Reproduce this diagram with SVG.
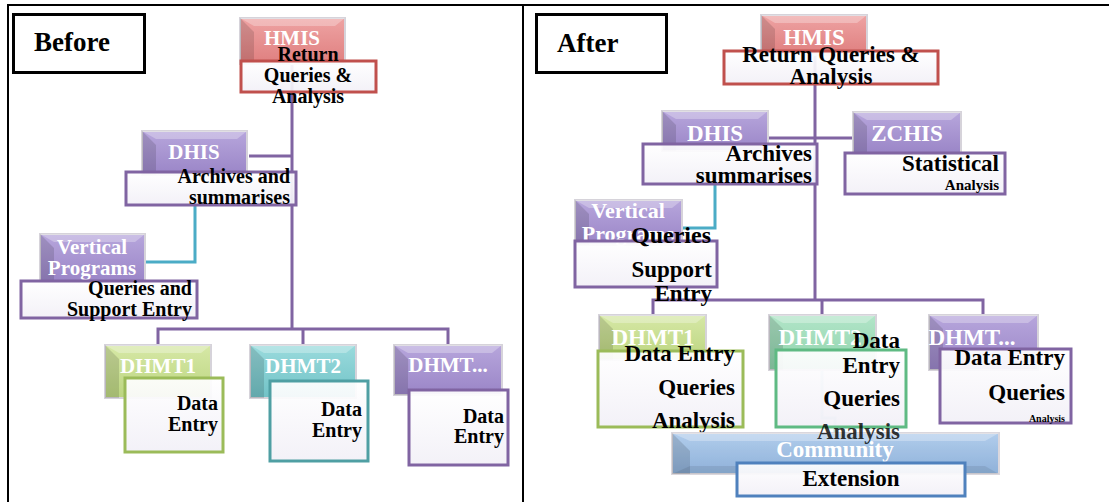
<svg xmlns="http://www.w3.org/2000/svg" width="1109" height="502" viewBox="0 0 1109 502">
  <style>
    text { font-family: "Liberation Serif", "DejaVu Serif", serif; font-weight: bold; }
    .frame { fill: none; stroke: #000; stroke-width: 2; }
    .tag { fill: #fff; stroke: #000; stroke-width: 3; }
    .tagtxt { font-size: 27px; fill: #000; }
    .rim { stroke: #d6d3da; stroke-width: 2; }
    .shadeL { fill: #000; opacity: 0.13; }
    .shadeT { fill: #fff; opacity: 0.28; }
    .shadeB { fill: #000; opacity: 0.08; }
    .card { fill: url(#cardFill); stroke-width: 3; }
    .ht { fill: #fff; text-anchor: middle; }
    .h1 { font-size: 21px; }
    .h2 { font-size: 23px; }
    .t1 { font-size: 20px; fill: #000; }
    .t2 { font-size: 23px; fill: #000; }
    .r { text-anchor: end; }
    .c { text-anchor: middle; }
    .lnP { fill: none; stroke: #8064a2; stroke-width: 3; }
    .lnB { fill: none; stroke: #4bacc6; stroke-width: 3; }
    .red { stroke: #c0504d; }
    .pur { stroke: #8064a2; }
    .grn { stroke: #9bbb59; }
    .teal { stroke: #4f9fa3; }
    .mint { stroke: #5fba83; }
    .blu { stroke: #4f81bd; }
  </style>
  <defs>
    <linearGradient id="cardFill" x1="0" y1="0" x2="0" y2="1">
      <stop offset="0" stop-color="#ffffff" stop-opacity="0.93"/>
      <stop offset="1" stop-color="#f2f0f7" stop-opacity="0.93"/>
    </linearGradient>
    <linearGradient id="gRed" x1="0" y1="0" x2="0" y2="1">
      <stop offset="0" stop-color="#eea3a3"/>
      <stop offset="1" stop-color="#df7f7f"/>
    </linearGradient>
    <linearGradient id="gPur" x1="0" y1="0" x2="0" y2="1">
      <stop offset="0" stop-color="#b7a6dc"/>
      <stop offset="1" stop-color="#9a85c7"/>
    </linearGradient>
    <linearGradient id="gGrn" x1="0" y1="0" x2="0" y2="1">
      <stop offset="0" stop-color="#d6e8a6"/>
      <stop offset="1" stop-color="#bcd580"/>
    </linearGradient>
    <linearGradient id="gTeal" x1="0" y1="0" x2="0" y2="1">
      <stop offset="0" stop-color="#9adbdd"/>
      <stop offset="1" stop-color="#71c2c6"/>
    </linearGradient>
    <linearGradient id="gMint" x1="0" y1="0" x2="0" y2="1">
      <stop offset="0" stop-color="#b2e5c8"/>
      <stop offset="1" stop-color="#8ed3ac"/>
    </linearGradient>
    <linearGradient id="gBlu" x1="0" y1="0" x2="0" y2="1">
      <stop offset="0" stop-color="#a9c8ea"/>
      <stop offset="1" stop-color="#83a9d6"/>
    </linearGradient>
  </defs>

  <!-- page frame and panel divider -->
  <g id="frame">
    <path class="frame" d="M7 5 H1109 M8 5 V502 M523 5 V502"/>
  </g>

  <!-- panel captions -->
  <g id="tag-before">
    <rect class="tag" x="13.5" y="14.5" width="131" height="58"/>
    <text class="tagtxt" x="34" y="51">Before</text>
  </g>
  <g id="tag-after">
    <rect class="tag" x="536.5" y="14.5" width="130" height="58"/>
    <text class="tagtxt" x="557" y="52">After</text>
  </g>

  <!-- connectors -->
  <g id="connectors">
    <path class="lnP" d="M292 60 V329 M249 156 H292 M158 345 V329 H448 V345 M303 329 V345"/>
    <path class="lnB" d="M195 206 V262 H145"/>
    <path class="lnP" d="M815 52 V300 M768 138 H853 M653 315 V300 H983 V315 M822 300 V315"/>
    <path class="lnB" d="M715 185 V228 H682"/>
    <path class="lnB" d="M822 362 V418 H835 V433" opacity="0.35"/>
  </g>

  <!-- Before: HMIS -->
  <g id="b-hmis">
    <rect class="rim" x="240" y="18" width="105" height="46" fill="url(#gRed)"/>
    <polygon class="shadeL" points="240,18 254,32 254,64 240,64"/>
    <polygon class="shadeT" points="240,18 345,18 335,26 254,26"/>
    <text class="ht h1" x="292" y="45">HMIS</text>
    <rect class="card red" x="241" y="61" width="135" height="31"/>
    <text class="t1 c" x="308" y="61">Return</text>
    <text class="t1 c" x="308" y="82">Queries &amp;</text>
    <text class="t1 c" x="308" y="103">Analysis</text>
  </g>

  <!-- Before: DHIS -->
  <g id="b-dhis">
    <rect class="rim" x="142" y="131" width="105" height="44" fill="url(#gPur)"/>
    <polygon class="shadeL" points="142,131 156,145 156,175 142,175"/>
    <polygon class="shadeT" points="142,131 247,131 237,139 156,139"/>
    <text class="ht h1" x="194" y="159">DHIS</text>
    <rect class="card pur" x="126" y="172" width="170" height="33"/>
    <text class="t1 r" x="290" y="183">Archives and</text>
    <text class="t1 r" x="290" y="204">summarises</text>
  </g>

  <!-- Before: Vertical Programs -->
  <g id="b-vertical">
    <rect class="rim" x="40" y="234" width="105" height="48" fill="url(#gPur)"/>
    <polygon class="shadeL" points="40,234 54,248 54,282 40,282"/>
    <polygon class="shadeT" points="40,234 145,234 135,242 54,242"/>
    <text class="ht h1" x="92" y="254">Vertical</text>
    <text class="ht h1" x="92" y="275">Programs</text>
    <rect class="card pur" x="21" y="281" width="176" height="37"/>
    <text class="t1 r" x="192" y="295">Queries and</text>
    <text class="t1 r" x="192" y="316">Support Entry</text>
  </g>

  <!-- Before: DHMT1 -->
  <g id="b-dhmt1">
    <rect class="rim" x="105" y="345" width="106" height="53" fill="url(#gGrn)"/>
    <polygon class="shadeL" points="105,345 119,359 119,398 105,398"/>
    <polygon class="shadeT" points="105,345 211,345 201,353 119,353"/>
    <text class="ht h1" x="158" y="373">DHMT1</text>
    <rect class="card grn" x="125" y="378" width="98" height="74"/>
    <text class="t1 r" x="218" y="410">Data</text>
    <text class="t1 r" x="218" y="431">Entry</text>
  </g>

  <!-- Before: DHMT2 -->
  <g id="b-dhmt2">
    <rect class="rim" x="250" y="345" width="106" height="53" fill="url(#gTeal)"/>
    <polygon class="shadeL" points="250,345 264,359 264,398 250,398"/>
    <polygon class="shadeT" points="250,345 356,345 346,353 264,353"/>
    <text class="ht h1" x="303" y="373">DHMT2</text>
    <rect class="card teal" x="270" y="381" width="98" height="80"/>
    <text class="t1 r" x="362" y="416">Data</text>
    <text class="t1 r" x="362" y="437">Entry</text>
  </g>

  <!-- Before: DHMT... -->
  <g id="b-dhmtn">
    <rect class="rim" x="394" y="345" width="108" height="50" fill="url(#gPur)"/>
    <polygon class="shadeL" points="394,345 408,359 408,395 394,395"/>
    <polygon class="shadeT" points="394,345 502,345 492,353 408,353"/>
    <text class="ht h1" x="448" y="372">DHMT...</text>
    <rect class="card pur" x="409" y="390" width="99" height="75"/>
    <text class="t1 r" x="504" y="423">Data</text>
    <text class="t1 r" x="504" y="443">Entry</text>
  </g>

  <!-- After: HMIS -->
  <g id="a-hmis">
    <rect class="rim" x="761" y="15" width="106" height="40" fill="url(#gRed)"/>
    <polygon class="shadeL" points="761,15 775,29 775,55 761,55"/>
    <polygon class="shadeT" points="761,15 867,15 857,23 775,23"/>
    <text class="ht h2" x="814" y="45">HMIS</text>
    <rect class="card red" x="724" y="51" width="214" height="33"/>
    <text class="t2 c" x="831" y="62">Return Queries &amp;</text>
    <text class="t2 c" x="831" y="84">Analysis</text>
  </g>

  <!-- After: DHIS -->
  <g id="a-dhis">
    <rect class="rim" x="662" y="111" width="106" height="40" fill="url(#gPur)"/>
    <polygon class="shadeL" points="662,111 676,125 676,151 662,151"/>
    <polygon class="shadeT" points="662,111 768,111 758,119 676,119"/>
    <text class="ht h2" x="715" y="141">DHIS</text>
    <rect class="card pur" x="643" y="144" width="174" height="40"/>
    <text class="t2 r" x="812" y="161">Archives</text>
    <text class="t2 r" x="812" y="183">summarises</text>
  </g>

  <!-- After: ZCHIS -->
  <g id="a-zchis">
    <rect class="rim" x="853" y="112" width="108" height="42" fill="url(#gPur)"/>
    <polygon class="shadeL" points="853,112 867,126 867,154 853,154"/>
    <polygon class="shadeT" points="853,112 961,112 951,120 867,120"/>
    <text class="ht h2" x="907" y="141">ZCHIS</text>
    <rect class="card pur" x="845" y="153" width="160" height="41"/>
    <text class="t2 r" x="999" y="171">Statistical</text>
    <text class="r" x="999" y="190" font-size="15px">Analysis</text>
  </g>

  <!-- After: Vertical Programs -->
  <g id="a-vertical">
    <rect class="rim" x="575" y="200" width="107" height="45" fill="url(#gPur)"/>
    <polygon class="shadeL" points="575,200 589,214 589,245 575,245"/>
    <polygon class="shadeT" points="575,200 682,200 672,208 589,208"/>
    <text class="ht" x="628" y="218" font-size="22px">Vertical</text>
    <text class="ht" x="628" y="241" font-size="22px">Programs</text>
    <rect class="card pur" x="575" y="241" width="142" height="46"/>
    <text class="r" x="711" y="243" font-size="24px">Queries</text>
    <text class="t2 r" x="712" y="277">Support</text>
    <text class="t2 r" x="712" y="301">Entry</text>
  </g>

  <!-- After: DHMT1 -->
  <g id="a-dhmt1">
    <rect class="rim" x="599" y="315" width="107" height="45" fill="url(#gGrn)"/>
    <polygon class="shadeL" points="599,315 613,329 613,360 599,360"/>
    <polygon class="shadeT" points="599,315 706,315 696,323 613,323"/>
    <text class="ht h2" x="653" y="345">DHMT1</text>
    <rect class="card grn" x="598" y="351" width="145" height="76"/>
    <text class="t2 r" x="735" y="361">Data Entry</text>
    <text class="t2 r" x="735" y="395">Queries</text>
    <text class="t2 r" x="735" y="428">Analysis</text>
  </g>

  <!-- After: DHMT2 -->
  <g id="a-dhmt2">
    <rect class="rim" x="769" y="315" width="107" height="55" fill="url(#gMint)"/>
    <polygon class="shadeL" points="769,315 783,329 783,370 769,370"/>
    <polygon class="shadeT" points="769,315 876,315 866,323 783,323"/>
    <text class="ht h2" x="820" y="345">DHMT2</text>
    <rect class="card mint" x="776" y="350" width="130" height="77"/>
    <text class="t2 r" x="900" y="348">Data</text>
    <text class="t2 r" x="900" y="373">Entry</text>
    <text class="t2 r" x="900" y="406">Queries</text>
  </g>

  <!-- After: DHMT... -->
  <g id="a-dhmtn">
    <rect class="rim" x="929" y="315" width="109" height="55" fill="url(#gPur)"/>
    <polygon class="shadeL" points="929,315 943,329 943,370 929,370"/>
    <polygon class="shadeT" points="929,315 1038,315 1028,323 943,323"/>
    <text class="ht h2" x="972" y="345">DHMT...</text>
    <rect class="card pur" x="940" y="349" width="131" height="74"/>
    <text class="t2 r" x="1065" y="365">Data Entry</text>
    <text class="t2 r" x="1065" y="400">Queries</text>
    <text class="r" x="1065" y="422" font-size="10px">Analysis</text>
  </g>

  <!-- After: Community Extension -->
  <g id="a-community">
    <rect class="rim" x="672" y="433" width="327" height="41" fill="url(#gBlu)" opacity="0.9"/>
    <polygon class="shadeL" points="672,433 690,451 690,474 672,474"/>
    <polygon class="shadeT" points="672,433 999,433 985,441 690,441"/>
    <polygon class="shadeB" points="690,466 985,466 999,474 672,474"/>
    <!-- last line of the DHMT2 card runs onto this bar -->
    <text class="t2 r" x="900" y="439" fill-opacity="0.8">Analysis</text>
    <text class="ht h2" x="835" y="457">Community</text>
    <rect class="card blu" x="737" y="463" width="228" height="33"/>
    <text class="t2 c" x="851" y="486">Extension</text>
  </g>
</svg>
